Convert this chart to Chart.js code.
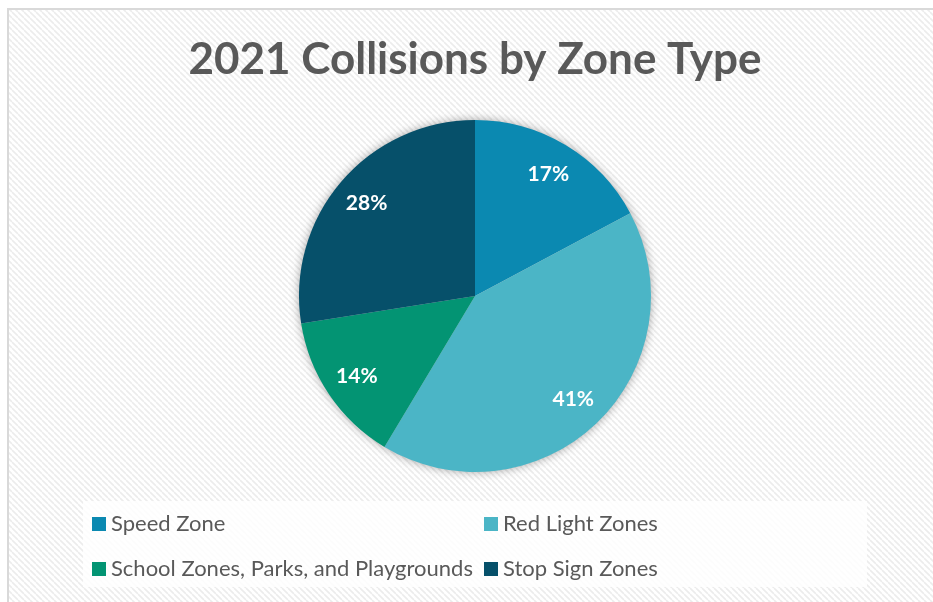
<!DOCTYPE html>
<html>
<head>
<meta charset="utf-8">
<script src="https://cdn.jsdelivr.net/npm/chart.js@4"></script>
<style>
  html, body { margin: 0; padding: 0; background: #ffffff; }
  #wrap { position: relative; width: 933px; height: 602px; }
</style>
</head>
<body>
<div id="wrap"><canvas id="chart" width="933" height="602"></canvas></div>
<script>
const zoneLabels = ["Speed Zone", "Red Light Zones", "School Zones, Parks, and Playgrounds", "Stop Sign Zones"];
const zoneShares = [17.2, 41.4, 13.9, 27.5];
const zoneColors = ["#0b89b1", "#4bb5c6", "#039473", "#06506a"];
const chartTitle = "2021 Collisions by Zone Type";

function makeHatch() {
  const tile = document.createElement("canvas");
  tile.width = 6;
  tile.height = 6;
  const t = tile.getContext("2d");
  t.fillStyle = "#ffffff";
  t.fillRect(0, 0, 6, 6);
  t.strokeStyle = "#ececec";
  t.lineWidth = 1.6;
  t.beginPath();
  for (let k = -6; k <= 12; k += 6) {
    t.moveTo(k, 0);
    t.lineTo(k + 6, 6);
  }
  t.stroke();
  return t;
}

const backdrop = {
  id: "backdrop",
  beforeDraw(chart) {
    const ctx = chart.ctx;
    ctx.save();
    ctx.fillStyle = ctx.createPattern(makeHatch().canvas, "repeat");
    ctx.fillRect(8, 9, chart.width - 8, chart.height - 9);
    ctx.strokeStyle = "#d9d9d9";
    ctx.lineWidth = 2;
    ctx.beginPath();
    ctx.moveTo(8, chart.height);
    ctx.lineTo(8, 9);
    ctx.lineTo(chart.width, 9);
    ctx.stroke();

    // title
    ctx.fillStyle = "#595959";
    ctx.font = "bold 44px Lato";
    ctx.textAlign = "center";
    ctx.textBaseline = "middle";
    ctx.fillText(chartTitle, 475, 60);
    ctx.restore();
  },
  beforeDatasetsDraw(chart) {
    const arc = chart.getDatasetMeta(0).data[0];
    if (!arc) return;
    const ctx = chart.ctx;
    ctx.save();
    ctx.shadowColor = "rgba(0,0,0,0.35)";
    ctx.shadowBlur = 10;
    ctx.fillStyle = "#cccccc";
    ctx.beginPath();
    ctx.arc(arc.x, arc.y, arc.outerRadius, 0, Math.PI * 2);
    ctx.fill();
    ctx.restore();
  },
};

const sliceLabels = {
  id: "sliceLabels",
  afterDatasetsDraw(chart) {
    const ctx = chart.ctx;
    const meta = chart.getDatasetMeta(0);
    ctx.save();
    ctx.fillStyle = "#ffffff";
    ctx.font = "bold 21px Lato";
    ctx.textAlign = "center";
    ctx.textBaseline = "middle";
    meta.data.forEach((arc, i) => {
      const mid = (arc.startAngle + arc.endAngle) / 2;
      const r = arc.outerRadius * 0.81;
      ctx.fillText(Math.round(zoneShares[i]) + "%", arc.x + Math.cos(mid) * r, arc.y + Math.sin(mid) * r);
    });
    ctx.restore();
  },
};

const boxLegend = {
  id: "boxLegend",
  afterDraw(chart) {
    const ctx = chart.ctx;
    ctx.save();
    ctx.fillStyle = "rgba(255,255,255,0.85)";
    ctx.fillRect(83, 501, 784, 86);
    ctx.font = "22px Lato";
    ctx.textBaseline = "middle";
    const cols = [92, 484];
    const rows = [524, 569];
    chart.data.labels.forEach((label, i) => {
      const x = cols[i % 2];
      const y = rows[Math.floor(i / 2)];
      ctx.fillStyle = zoneColors[i];
      ctx.fillRect(x, y - 7, 14, 14);
      ctx.fillStyle = "#595959";
      ctx.fillText(label, x + 19, y);
    });
    ctx.restore();
  },
};

new Chart(document.getElementById("chart"), {
  type: "pie",
  data: {
    labels: zoneLabels,
    datasets: [{
      data: zoneShares,
      backgroundColor: zoneColors,
      borderWidth: 0,
    }],
  },
  options: {
    responsive: false,
    animation: false,
    layout: { padding: { left: 299, right: 282, top: 120, bottom: 130 } },
    plugins: {
      legend: { display: false },
      tooltip: { enabled: false },
      title: { display: false },
    },
  },
  plugins: [backdrop, sliceLabels, boxLegend],
});
</script>
</body>
</html>
